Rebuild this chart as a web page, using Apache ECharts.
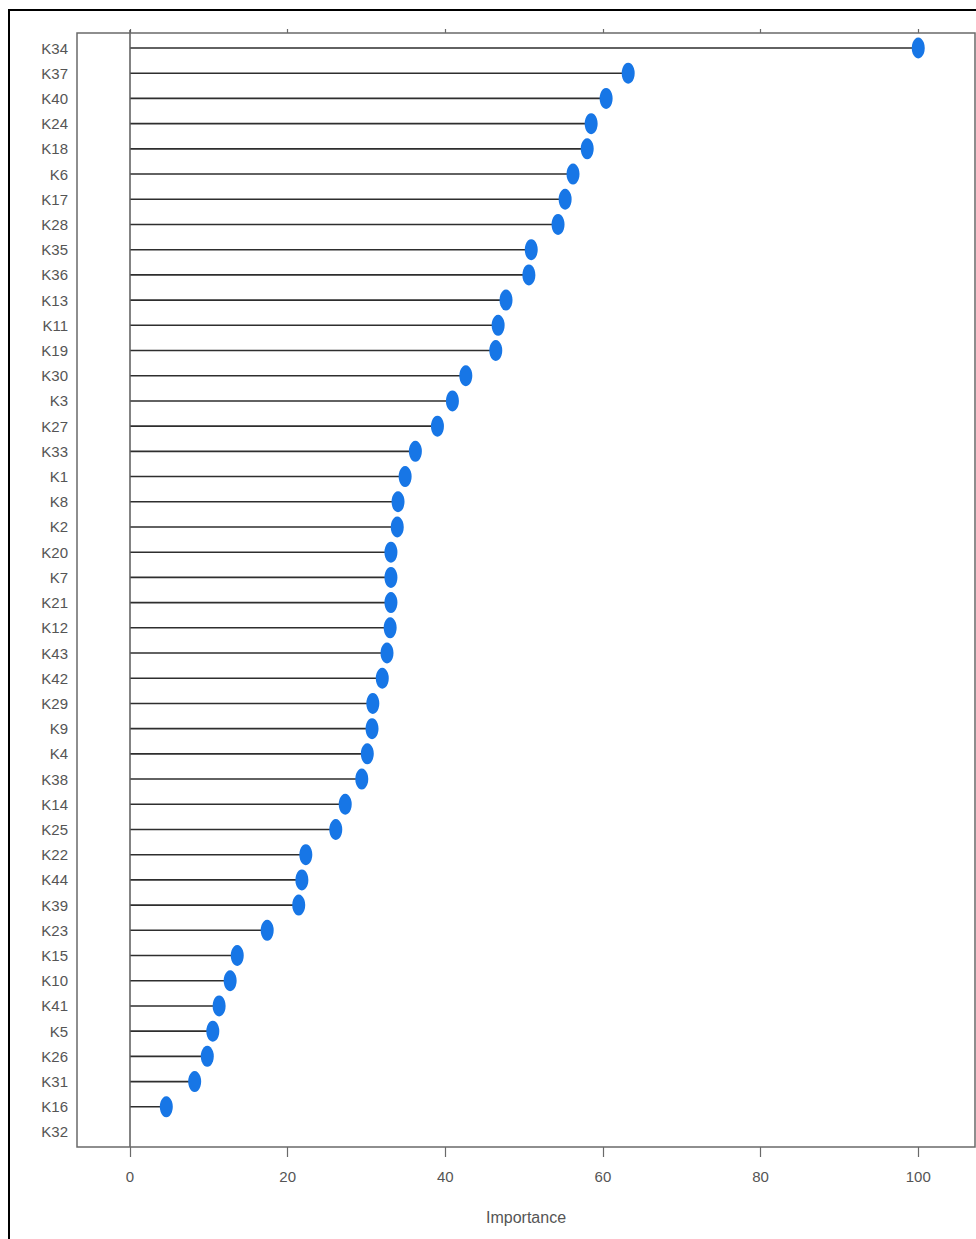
<!DOCTYPE html>
<html>
<head>
<meta charset="utf-8">
<title>Importance</title>
<script src="https://cdn.jsdelivr.net/npm/echarts@6/dist/echarts.min.js"></script>
<style>
  html, body { margin: 0; padding: 0; background: #fff; }
  #chart { width: 976px; height: 1239px; }
</style>
</head>
<body>
<div id="chart"></div>
<script>
// Variables, listed top to bottom
const features = [
  'K34', 'K37', 'K40', 'K24', 'K18', 'K6', 'K17', 'K28', 'K35', 'K36', 'K13',
  'K11', 'K19', 'K30', 'K3', 'K27', 'K33', 'K1', 'K8', 'K2', 'K20', 'K7',
  'K21', 'K12', 'K43', 'K42', 'K29', 'K9', 'K4', 'K38', 'K14', 'K25', 'K22',
  'K44', 'K39', 'K23', 'K15', 'K10', 'K41', 'K5', 'K26', 'K31', 'K16', 'K32'
];

// Importance score of each variable (K32 has no score)
const importance = [
  100.0, 63.2, 60.4, 58.5, 58.0, 56.2, 55.2, 54.3, 50.9, 50.6, 47.7,
  46.7, 46.4, 42.6, 40.9, 39.0, 36.2, 34.9, 34.0, 33.9, 33.1, 33.1,
  33.1, 33.0, 32.6, 32.0, 30.8, 30.7, 30.1, 29.4, 27.3, 26.1, 22.3,
  21.8, 21.4, 17.4, 13.6, 12.7, 11.3, 10.5, 9.8, 8.2, 4.6, null
];

// Tick positions on the importance axis
const xTicks = [0, 20, 40, 60, 80, 100];
const xName = 'Importance';

const labelFont = '"Liberation Sans Narrow", "Arial Narrow", "Liberation Sans", sans-serif';

const chart = echarts.init(document.getElementById('chart'), null, { renderer: 'svg' });

const xMin = -6.73, xMax = 107.2;

chart.setOption({
  animation: false,
  backgroundColor: '#ffffff',
  grid: {
    left: 77, top: 35.4, right: 1, bottom: 94.4,
    show: false
  },
  graphic: [{
    // panel frame
    type: 'rect',
    shape: { x: 77, y: 33, width: 898, height: 1114 },
    style: { fill: 'none', stroke: '#6a6a6a', lineWidth: 1.5 },
    silent: true, z: 50
  }, {
    // outer border
    type: 'rect',
    shape: { x: 9, y: 10, width: 1000, height: 1260 },
    style: { fill: 'none', stroke: '#000', lineWidth: 2 },
    silent: true, z: 100
  }],
  xAxis: [{
    type: 'value',
    min: xMin, max: xMax,
    position: 'bottom',
    offset: 2.4,
    name: xName,
    nameLocation: 'middle',
    nameGap: 62,
    nameTextStyle: { fontFamily: labelFont, fontSize: 16, color: '#555' },
    splitLine: { show: false },
    axisLine: { show: false },
    axisTick: { show: true, customValues: xTicks, length: 10, lineStyle: { color: '#6a6a6a', width: 1.2 } },
    axisLabel: { show: true, customValues: xTicks, margin: 22, fontFamily: labelFont, fontSize: 15, color: '#555' }
  }, {
    type: 'value',
    min: xMin, max: xMax,
    position: 'top',
    offset: 2.4,
    splitLine: { show: false },
    axisLine: { show: false },
    axisTick: { show: true, customValues: xTicks, length: 4, lineStyle: { color: '#6a6a6a', width: 1.2 } },
    axisLabel: { show: false }
  }],
  yAxis: {
    type: 'category',
    data: features,
    inverse: true,
    boundaryGap: true,
    axisLine: { show: false },
    axisTick: { show: false },
    splitLine: { show: false },
    axisLabel: { margin: 9, fontFamily: labelFont, fontSize: 15, color: '#555', interval: 0 }
  },
  series: [{
    // stems from zero to each score
    type: 'bar',
    data: importance,
    barWidth: 1.6,
    itemStyle: { color: '#2e2e2e' },
    silent: true,
    markLine: {
      silent: true,
      symbol: 'none',
      label: { show: false },
      lineStyle: { color: '#5a5a5a', width: 1.5, type: 'solid' },
      data: [[{ xAxis: 0, y: 30 }, { xAxis: 0, y: 1147 }]]
    }
  }, {
    // dot at the end of each stem
    type: 'scatter',
    data: importance,
    symbol: 'circle',
    symbolSize: [13, 21],
    itemStyle: { color: '#1776e6', opacity: 1 },
    z: 5
  }]
});
</script>
</body>
</html>
